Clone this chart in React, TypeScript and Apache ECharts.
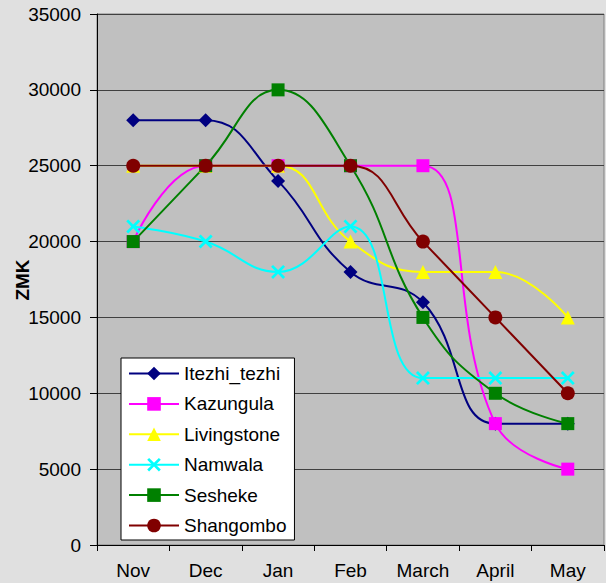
import React, { useEffect, useRef } from "react";
import * as echarts from "echarts";

const categories = ["Nov", "Dec", "Jan", "Feb", "March", "April", "May"];
const itezhi = [28000, 28000, 24000, 18000, 16000, 8000, 8000];
const kazungula = [20000, 25000, 25000, 25000, 25000, 8000, 5000];
const livingstone = [25000, 25000, 25000, 20000, 18000, 18000, 15000];
const namwala = [21000, 20000, 18000, 21000, 11000, 11000, 11000];
const sesheke = [20000, 25000, 30000, 25000, 15000, 10000, 8000];
const shangombo = [25000, 25000, 25000, 25000, 20000, 15000, 10000];
const yTitle = "ZMK";

const xSymbol =
  "path://M0,1.4L1.4,0L5,3.6L8.6,0L10,1.4L6.4,5L10,8.6L8.6,10L5,6.4L1.4,10L0,8.6L3.6,5Z";

const FONT = "Arial, Liberation Sans, sans-serif";

export default function App() {
  const ref = useRef<HTMLDivElement>(null);
  useEffect(() => {
    const chart = echarts.init(ref.current!, null, { renderer: "svg" });
    const mk = (name: string, data: number[], color: string, symbol: string, size: number) => ({
      name,
      type: "line",
      data,
      smooth: 0.45,
      symbol,
      symbolSize: size,
      lineStyle: { color, width: 2 },
      itemStyle: { color },
    });
    chart.setOption({
      animation: false,
      backgroundColor: "#e0e0e0",
      textStyle: { fontFamily: FONT, fontWeight: "normal" },
      grid: {
        left: 97,
        right: 2,
        top: 14,
        bottom: 38,
        outerBoundsMode: "none",
        containLabel: false,
        show: true,
        backgroundColor: "#c0c0c0",
        borderColor: "#808080",
        borderWidth: 1,
      },
      graphic: [
        {
          type: "text",
          x: 22,
          y: 280,
          rotation: Math.PI / 2,
          style: {
            text: yTitle,
            fontSize: 19,
            fontWeight: "bold",
            fontFamily: FONT,
            fill: "#000",
            align: "center",
            verticalAlign: "middle",
          },
        },
      ],
      legend: {
        orient: "vertical",
        left: 121,
        top: 358,
        backgroundColor: "#ffffff",
        borderColor: "#000000",
        borderWidth: 1,
        borderRadius: 0,
        padding: [6, 8, 5, 7],
        itemWidth: 50,
        itemHeight: 17,
        itemGap: 11.4,
        textStyle: { fontSize: 19, color: "#000", fontFamily: FONT, fontWeight: "normal" },
      },
      xAxis: {
        type: "category",
        data: categories,
        boundaryGap: true,
        axisLine: { lineStyle: { color: "#000", width: 1 } },
        axisTick: { show: true, length: 6, lineStyle: { color: "#000" } },
        axisLabel: { fontSize: 19, color: "#000", margin: 16, fontWeight: "normal", fontFamily: FONT },
      },
      yAxis: {
        type: "value",
        min: 0,
        max: 35000,
        interval: 5000,
        axisLine: { show: true, lineStyle: { color: "#000", width: 1 } },
        axisTick: { show: true, length: 7, lineStyle: { color: "#000" } },
        axisLabel: {
          fontSize: 19,
          color: "#000",
          margin: 16,
          fontWeight: "normal",
          fontFamily: FONT,
          formatter: (v: number) => String(v),
        },
        splitLine: { lineStyle: { color: "#404040", width: 1 } },
      },
      series: [
        mk("Itezhi_tezhi", itezhi, "#000080", "diamond", 14),
        mk("Kazungula", kazungula, "#ff00ff", "rect", 13),
        mk("Livingstone", livingstone, "#ffff00", "triangle", 14),
        mk("Namwala", namwala, "#00ffff", xSymbol, 14),
        mk("Sesheke", sesheke, "#008000", "rect", 13),
        mk("Shangombo", shangombo, "#800000", "circle", 14),
      ],
    });
    return () => chart.dispose();
  }, []);
  return (
    <div
      ref={ref}
      style={{ position: "fixed", left: 0, top: 0, width: 606, height: 583 }}
    />
  );
}
